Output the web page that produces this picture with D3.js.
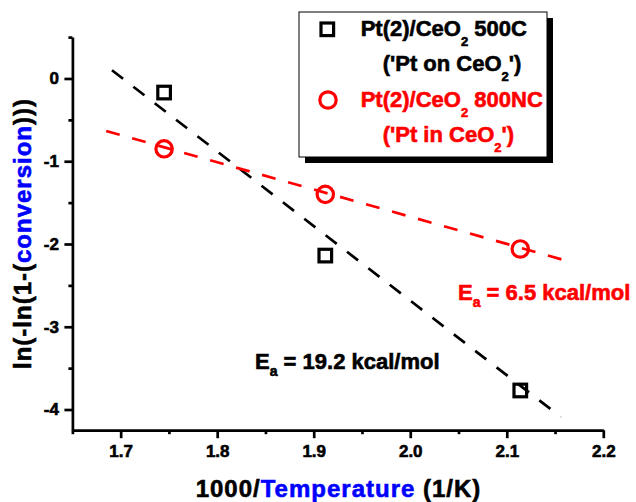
<!DOCTYPE html>
<html>
<head>
<meta charset="utf-8">
<script src="https://cdn.jsdelivr.net/npm/d3@7"></script>
<style>
	body { margin: 0; background: #fff; }
	svg text { font-family: 'Liberation Sans', Arial, sans-serif; font-weight: bold; }
</style>
</head>
<body>
<div id="chart"></div>
<script>

/* data */
var invTemp = [1.745, 1.912, 2.114]
var onCeO2 = [-0.17, -2.14, -3.77]
var inCeO2 = [-0.85, -1.40, -2.06]

/* end points of the dashed fits */
var fitOnX = [1.691, 2.156]
var fitOnY = [0.10, -4.09]
var fitInX = [1.685, 2.169]
var fitInY = [-0.634, -2.226]

var xMajor = [1.7, 1.8, 1.9, 2.0, 2.1, 2.2]
var xMinor = [1.65, 1.75, 1.85, 1.95, 2.05, 2.15]
var yMajor = [0, -1, -2, -3, -4]
var yMinor = [0.5, -0.5, -1.5, -2.5, -3.5]

var width = 636, height = 502

var svg = d3.select('#chart').append('svg')
	.attr('width', width)
	.attr('height', height)

var x = d3.scaleLinear().domain([1.65, 2.2]).range([72.4, 603.3])
var y = d3.scaleLinear().domain([-4.25, 0.5]).range([430.2, 37.1])

function styleAxis(g) {
	g.select('.domain').attr('stroke', '#000').attr('stroke-width', 2.7)
	g.selectAll('.tick line').attr('stroke', '#000').attr('stroke-width', 2.7)
	g.selectAll('.tick text').attr('font-size', 17).attr('fill', '#000')
		.attr('font-family', "'Liberation Sans', Arial, sans-serif").attr('font-weight', 'bold')
}

/* minor ticks first, then major with the domain line */
svg.append('g')
	.attr('transform', 'translate(0,' + y(-4.25) + ')')
	.call(d3.axisBottom(x).tickValues(xMinor).tickSize(4).tickFormat(''))
	.call(styleAxis)
	.select('.domain').remove()

svg.append('g')
	.attr('transform', 'translate(' + x(1.65) + ',0)')
	.call(d3.axisLeft(y).tickValues(yMinor).tickSize(4).tickFormat(''))
	.call(styleAxis)
	.select('.domain').remove()

svg.append('g')
	.attr('transform', 'translate(0,' + y(-4.25) + ')')
	.call(d3.axisBottom(x).tickValues(xMajor).tickSize(8).tickSizeOuter(0).tickPadding(7)
		.tickFormat(d3.format('.1f')))
	.call(styleAxis)

svg.append('g')
	.attr('transform', 'translate(' + x(1.65) + ',0)')
	.call(d3.axisLeft(y).tickValues(yMajor).tickSize(8).tickSizeOuter(0).tickPadding(5.5)
		.tickFormat(function (d) { return d.toString() }))
	.call(styleAxis)

/* fit lines */
var line = d3.line()
	.x(function (d) { return x(d[0]) })
	.y(function (d) { return y(d[1]) })

svg.append('path')
	.datum(d3.zip(fitOnX, fitOnY))
	.attr('d', line)
	.attr('fill', 'none')
	.attr('stroke', '#000')
	.attr('stroke-width', 2.7)
	.attr('stroke-dasharray', '14,13')

svg.append('path')
	.datum(d3.zip(fitInX, fitInY))
	.attr('d', line)
	.attr('fill', 'none')
	.attr('stroke', '#ff0000')
	.attr('stroke-width', 2.7)
	.attr('stroke-dasharray', '14,13')

/* markers */
svg.selectAll('.sq')
	.data(d3.zip(invTemp, onCeO2))
	.enter().append('rect')
	.attr('class', 'sq')
	.attr('x', function (d) { return x(d[0]) - 6.3 })
	.attr('y', function (d) { return y(d[1]) - 6.3 })
	.attr('width', 12.6)
	.attr('height', 12.6)
	.attr('fill', 'none')
	.attr('stroke', '#000')
	.attr('stroke-width', 3.2)

svg.selectAll('.ci')
	.data(d3.zip(invTemp, inCeO2))
	.enter().append('circle')
	.attr('class', 'ci')
	.attr('cx', function (d) { return x(d[0]) })
	.attr('cy', function (d) { return y(d[1]) })
	.attr('r', 8.2)
	.attr('fill', 'none')
	.attr('stroke', '#ff0000')
	.attr('stroke-width', 3.2)

/* axis titles */
var xt = svg.append('text')
	.attr('x', 338.5)
	.attr('y', 497)
	.attr('text-anchor', 'middle')
	.attr('font-size', 24)
	.attr('letter-spacing', 1)
xt.append('tspan').attr('fill', '#000').text('1000/')
xt.append('tspan').attr('fill', '#0000ff').text('Temperature')
xt.append('tspan').attr('fill', '#000').text(' (1/K)')

var yt = svg.append('text')
	.attr('transform', 'translate(31,233.5) rotate(-90)')
	.attr('text-anchor', 'middle')
	.attr('font-size', 24)
	.attr('letter-spacing', 1)
yt.append('tspan').attr('fill', '#000').text('ln(-ln(1-(')
yt.append('tspan').attr('fill', '#0000ff').text('conversion')
yt.append('tspan').attr('fill', '#000').text(')))')

/* Ea labels */
function eaLabel(px, py, value, colour) {
	var t = svg.append('text')
		.attr('x', px)
		.attr('y', py)
		.attr('font-size', 22)
		.attr('fill', colour)
	t.append('tspan').attr('fill', colour).text('E')
	t.append('tspan').attr('fill', colour).attr('font-size', 14).attr('dy', 7).text('a')
	t.append('tspan').attr('fill', colour).attr('dy', -7).text(' = ' + value + ' kcal/mol')
}
eaLabel(458, 300, '6.5', '#ff0000')
eaLabel(255, 369, '19.2', '#000')

/* legend */
svg.append('rect')
	.attr('x', 305).attr('y', 18)
	.attr('width', 248).attr('height', 145)
	.attr('fill', '#000')
svg.append('rect')
	.attr('x', 299).attr('y', 12)
	.attr('width', 248).attr('height', 145)
	.attr('fill', '#fff')
	.attr('stroke', '#000')
	.attr('stroke-width', 1)

svg.append('rect')
	.attr('x', 327.3 - 6.3).attr('y', 29.3 - 6.3)
	.attr('width', 12.6).attr('height', 12.6)
	.attr('fill', 'none')
	.attr('stroke', '#000')
	.attr('stroke-width', 3.2)
svg.append('circle')
	.attr('cx', 328).attr('cy', 100)
	.attr('r', 8.2)
	.attr('fill', 'none')
	.attr('stroke', '#ff0000')
	.attr('stroke-width', 3.2)

function legendLine(px, py, before, after, colour) {
	var t = svg.append('text')
		.attr('x', px)
		.attr('y', py)
		.attr('font-size', 22)
		.attr('fill', colour)
	t.append('tspan').attr('fill', colour).text(before)
	t.append('tspan').attr('fill', colour).attr('font-size', 13).attr('dy', 10).text('2')
	t.append('tspan').attr('fill', colour).attr('dy', -10).text(after)
}
legendLine(360.7, 36, 'Pt(2)/CeO', ' 500C', '#000')
legendLine(382.7, 71, "('Pt on CeO", "')", '#000')
legendLine(360.7, 106.7, 'Pt(2)/CeO', ' 800NC', '#ff0000')
legendLine(382.7, 141.7, "('Pt in CeO", "')", '#ff0000')

/* the original text is a touch heavier than plain bold */
svg.selectAll('text, tspan').each(function () {
	var el = d3.select(this)
	var f = el.attr('fill')
	if (f) el.attr('stroke', f).attr('stroke-width', 0.6)
})

</script>
</body>
</html>
